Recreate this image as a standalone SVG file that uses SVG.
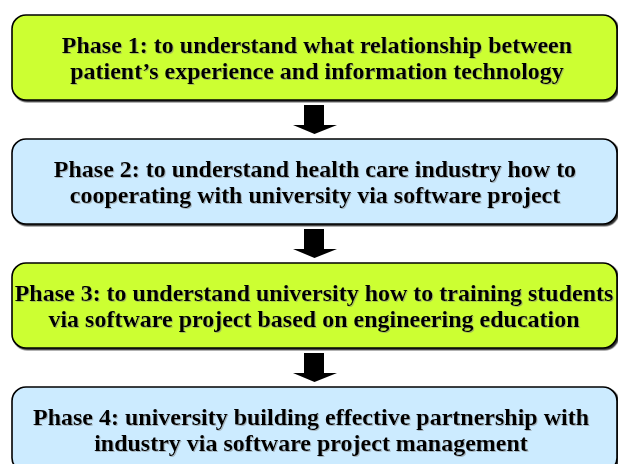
<svg xmlns="http://www.w3.org/2000/svg" width="618" height="464" viewBox="0 0 618 464">
<defs>
<filter id="ts" x="-5%" y="-20%" width="110%" height="140%">
<feDropShadow dx="1" dy="1" stdDeviation="0.3" flood-color="#808080" flood-opacity="0.5"/>
</filter>
<filter id="bs" x="-5%" y="-10%" width="110%" height="125%">
<feDropShadow dx="1.5" dy="1.5" stdDeviation="0.4" flood-color="#000" flood-opacity="0.8"/>
</filter>
</defs>
<style>
.box{stroke:#000;stroke-width:1.6;filter:url(#bs)}
.g{fill:#CCFF33}
.b{fill:#CCEBFF}
.t{font-family:"Liberation Serif","Times New Roman",serif;font-weight:bold;font-size:24px;fill:#000;text-anchor:middle;filter:url(#ts)}
.arr{fill:#000}
</style>
<rect width="618" height="464" fill="#fff"/>
<g id="connectors">
<polygon class="arr" points="304,105 324,105 324,125 337,125 314.5,134 293,125 304,125"/>
<polygon class="arr" points="304,229 324,229 324,249 337,249 314.5,258 293,249 304,249"/>
<polygon class="arr" points="304,353 324,353 324,373 337,373 314.5,382 293,373 304,373"/>
</g>
<g id="phase1">
<rect class="box g" x="12" y="15" width="605" height="85" rx="14"/>
<text class="t" x="317" y="53">Phase 1: to understand what relationship between</text>
<text class="t" x="317" y="79">patient’s experience and information technology</text>
</g>
<g id="phase2">
<rect class="box b" x="12" y="139" width="605" height="85" rx="14"/>
<text class="t" x="315" y="177">Phase 2: to understand health care industry how to</text>
<text class="t" x="315" y="203">cooperating with university via software project</text>
</g>
<g id="phase3">
<rect class="box g" x="12" y="263" width="605" height="85" rx="14"/>
<text class="t" x="314" y="301">Phase 3: to understand university how to training students</text>
<text class="t" x="314" y="327">via software project based on engineering education</text>
</g>
<g id="phase4">
<rect class="box b" x="12" y="387" width="605" height="85" rx="14"/>
<text class="t" x="311" y="425">Phase 4: university building effective partnership with</text>
<text class="t" x="311" y="451">industry via software project management</text>
</g>
</svg>
